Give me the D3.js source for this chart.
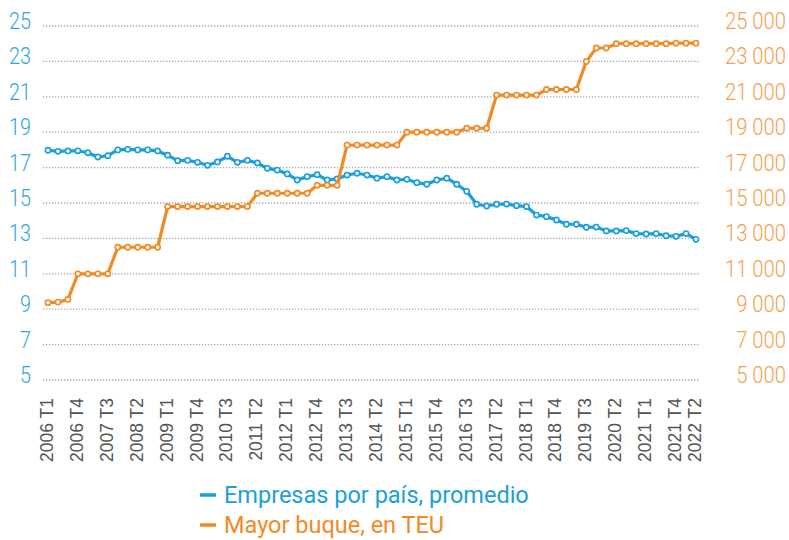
<!DOCTYPE html>
<html>
<head>
<meta charset="utf-8">
<script src="https://cdn.jsdelivr.net/npm/d3@7"></script>
<style>
  body { margin: 0; background: #fff; }
  svg { display: block; }
</style>
</head>
<body>
<svg id="chart" width="789" height="540"></svg>
<script>
// quarters 2006 T1 .. 2022 T2
const years = d3.range(2006, 2023);
const quarters = years.flatMap(y => [1, 2, 3, 4].map(q => `${y} T${q}`)).slice(0, 66);

// Empresas por país, promedio (left axis)
const empresas = [
  17.98, 17.92, 17.94, 17.95, 17.84, 17.6, 17.67, 18.0, 18.03, 18.0,
  18.0, 17.94, 17.7, 17.39, 17.41, 17.3, 17.13, 17.32, 17.64, 17.3,
  17.41, 17.26, 16.96, 16.86, 16.64, 16.3, 16.49, 16.6, 16.3, 16.36,
  16.58, 16.68, 16.58, 16.4, 16.49, 16.3, 16.34, 16.15, 16.06, 16.3,
  16.4, 16.06, 15.66, 14.93, 14.83, 14.93, 14.94, 14.85, 14.8, 14.32,
  14.23, 14.04, 13.8, 13.8, 13.63, 13.64, 13.42, 13.42, 13.44, 13.27,
  13.25, 13.27, 13.15, 13.12, 13.27, 12.95
];

// Mayor buque, en TEU (right axis)
const buque = [
  9370, 9400, 9550, 11000, 11000, 11000, 11000, 12500, 12500, 12500,
  12500, 12500, 14800, 14800, 14800, 14800, 14800, 14800, 14800, 14800,
  14800, 15550, 15550, 15550, 15550, 15550, 15550, 16000, 16000, 16000,
  18270, 18270, 18270, 18270, 18270, 18270, 19000, 19000, 19000, 19000,
  19000, 19000, 19224, 19224, 19224, 21100, 21100, 21100, 21100, 21100,
  21413, 21413, 21413, 21413, 23000, 23756, 23756, 24000, 24000, 24000,
  24000, 24000, 24000, 24030, 24030, 24030
];

const leftTicks = [5, 7, 9, 11, 13, 15, 17, 19, 21, 23, 25];
const rightTicks = [5000, 7000, 9000, 11000, 13000, 15000, 17000, 19000, 21000, 23000, 25000];
const shownQuarters = quarters.filter((d, i) => i % 3 === 0 || i === quarters.length - 1);

const legendItems = [
  { name: "Empresas por país, promedio", color: "#1a9fdb" },
  { name: "Mayor buque, en TEU", color: "#f28a24" }
];

const svg = d3.select("#chart");

const x = d3.scalePoint().domain(quarters).range([48, 696]);
const yL = d3.scaleLinear().domain([5, 25]).range([380, 26]);
const yR = d3.scaleLinear().domain([5000, 25000]).range([380, 26]);

// gridlines
svg.append("g")
  .selectAll("line")
  .data(leftTicks)
  .join("line")
  .attr("x1", 43)
  .attr("x2", 700)
  .attr("y1", d => yL(d))
  .attr("y2", d => yL(d))
  .attr("stroke", "#a8a8a8")
  .attr("stroke-width", 1.3)
  .attr("stroke-dasharray", "1.3,1.7");

// left labels
svg.append("g")
  .selectAll("text")
  .data(leftTicks)
  .join("text")
  .attr("transform", d => `translate(31,${yL(d) + 3}) scale(0.86,1)`)
  .attr("text-anchor", "end")
  .style("font-family", "Roboto, sans-serif")
  .style("font-weight", 300)
  .style("font-size", "23px")
  .style("fill", "#2ba6df")
  .text(d => d);

// right labels
svg.append("g")
  .selectAll("text")
  .data(rightTicks)
  .join("text")
  .attr("transform", d => `translate(786,${yR(d) + 3}) scale(0.88,1)`)
  .attr("text-anchor", "end")
  .style("font-family", "Roboto, sans-serif")
  .style("font-weight", 300)
  .style("font-size", "23px")
  .style("fill", "#f5a04e")
  .text(d => d3.format(",")(d).replace(",", " "));

// category labels
svg.append("g")
  .selectAll("text")
  .data(shownQuarters)
  .join("text")
  .attr("transform", d => `translate(${x(d) + 5},398) rotate(-90)`)
  .attr("text-anchor", "end")
  .style("font-family", "'Liberation Sans Narrow', 'Arial Narrow', sans-serif")
  .style("font-size", "17.5px")
  .style("fill", "#555")
  .text(d => d);

function drawSeries(values, yScale, color) {
  const pts = values.map((v, i) => [x(quarters[i]), yScale(v)]);
  svg.append("path")
    .attr("d", d3.line()(pts))
    .attr("fill", "none")
    .attr("stroke", color)
    .attr("stroke-width", 3.2)
    .attr("stroke-linejoin", "round");
  svg.append("g")
    .selectAll("circle")
    .data(pts)
    .join("circle")
    .attr("cx", d => d[0])
    .attr("cy", d => d[1])
    .attr("r", 2.6)
    .attr("fill", "#fff")
    .attr("stroke", color)
    .attr("stroke-width", 1.6);
}

drawSeries(empresas, yL, legendItems[0].color);
drawSeries(buque, yR, legendItems[1].color);

// legend
const lg = svg.append("g")
  .selectAll("g")
  .data(legendItems)
  .join("g")
  .attr("transform", (d, i) => `translate(200,${495 + i * 30})`);

lg.append("line")
  .attr("x1", 0)
  .attr("x2", 16)
  .attr("stroke", d => d.color)
  .attr("stroke-width", 3.5);

lg.append("text")
  .attr("transform", "translate(24,8.3)")
  .style("font-family", "Roboto, sans-serif")
  .style("font-size", "23.5px")
  .style("fill", d => d.color)
  .text(d => d.name);
</script>
</body>
</html>
